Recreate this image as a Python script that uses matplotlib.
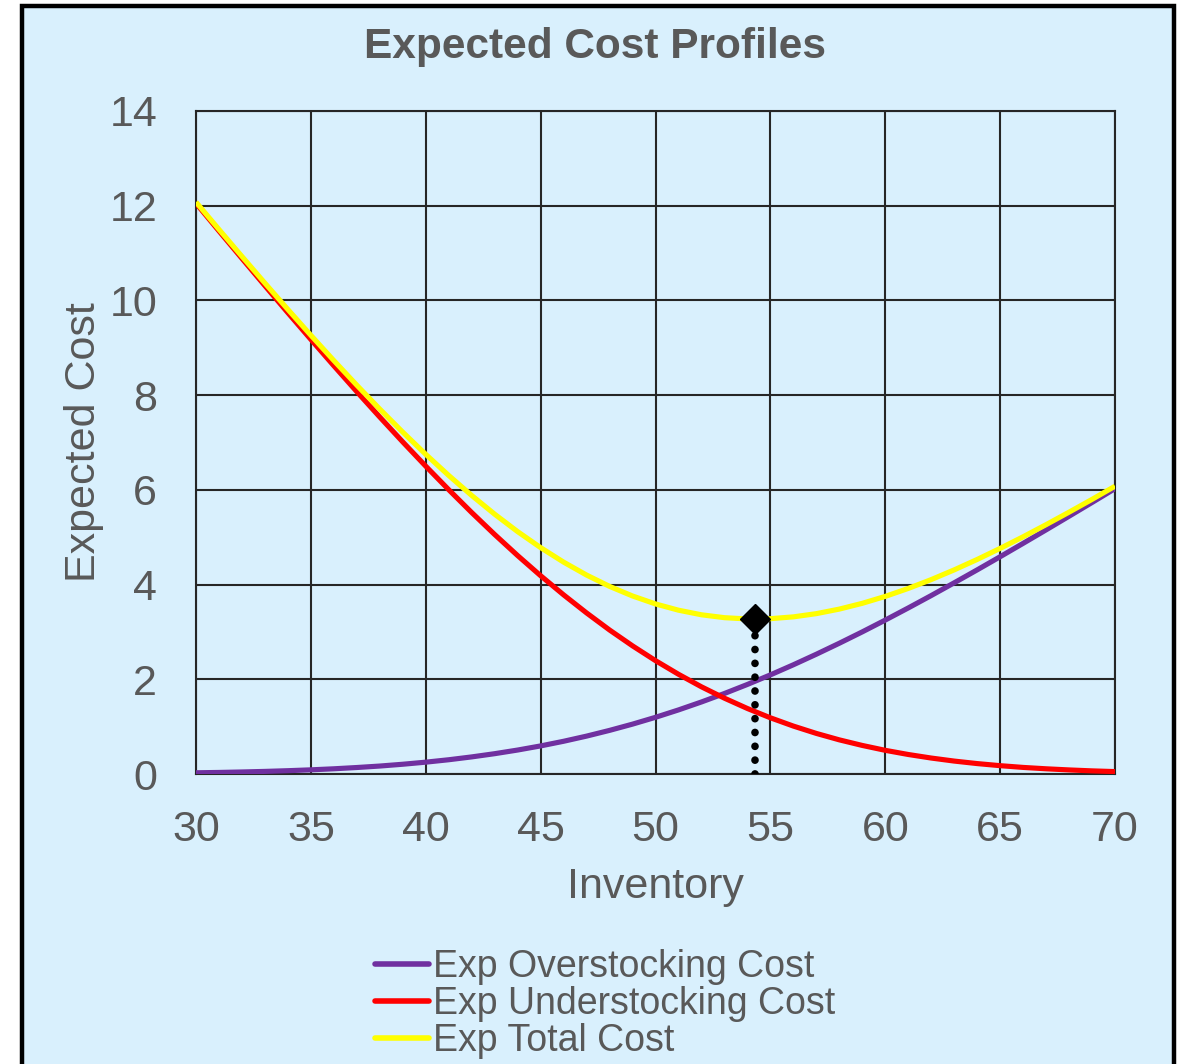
import matplotlib.pyplot as plt
from matplotlib.patches import Rectangle
from matplotlib.lines import Line2D

plt.rcParams['font.family'] = ['Liberation Sans', 'DejaVu Sans']

# inventory levels and expected costs
inventory = list(range(30, 71))
over_cost = [0.026, 0.033, 0.043, 0.055, 0.070, 0.088, 0.110, 0.137, 0.168, 0.206,
             0.250, 0.301, 0.361, 0.429, 0.506, 0.593, 0.691, 0.800, 0.921, 1.053,
             1.197, 1.353, 1.521, 1.700, 1.891, 2.093, 2.306, 2.529, 2.761, 3.001,
             3.250, 3.506, 3.768, 4.037, 4.310, 4.588, 4.870, 5.155, 5.443, 5.733,
             6.026]
under_cost = [12.051, 11.466, 10.886, 10.310, 9.739, 9.176, 8.620, 8.073, 7.537, 7.012,
              6.500, 6.003, 5.521, 5.057, 4.612, 4.187, 3.783, 3.401, 3.041, 2.706,
              2.394, 2.106, 1.841, 1.601, 1.383, 1.187, 1.012, 0.857, 0.721, 0.603,
              0.500, 0.412, 0.337, 0.273, 0.220, 0.176, 0.139, 0.110, 0.086, 0.066,
              0.051]
total_cost = [12.077, 11.499, 10.929, 10.365, 9.809, 9.264, 8.730, 8.210, 7.705, 7.218,
              6.750, 6.304, 5.882, 5.486, 5.118, 4.780, 4.474, 4.201, 3.962, 3.759,
              3.591, 3.459, 3.362, 3.301, 3.274, 3.280, 3.318, 3.386, 3.482, 3.604,
              3.750, 3.918, 4.105, 4.310, 4.530, 4.764, 5.009, 5.265, 5.529, 5.799,
              6.077]
best_q = 54.31
best_cost = 3.27

x_ticks = [30, 35, 40, 45, 50, 55, 60, 65, 70]
y_ticks = [0, 2, 4, 6, 8, 10, 12, 14]

bg = '#D9F0FD'
grey = '#595959'

fig = plt.figure(figsize=(11.85, 10.64), dpi=100)
fig.patch.set_facecolor('white')
fig.patches.append(Rectangle((22 / 1185, -0.05), (1174 - 22) / 1185, 1.05 - 6 / 1064,
                             transform=fig.transFigure, facecolor=bg,
                             edgecolor='black', linewidth=3.2, zorder=-1))

ax = fig.add_axes([196 / 1185, 1 - 774 / 1064, (1115 - 196) / 1185, (774 - 111) / 1064])
ax.set_zorder(1)
ax.set_facecolor(bg)

ax.plot(inventory, over_cost, color='#7030A0', lw=3.7, solid_capstyle='butt', zorder=3)
ax.plot(inventory, under_cost, color='#FF0000', lw=3.7, solid_capstyle='butt', zorder=4)
ax.plot(inventory, total_cost, color='#FFFF00', lw=3.7, solid_capstyle='butt', zorder=5)
ax.plot([best_q, best_q], [0, best_cost], color='black', lw=5.5,
        linestyle=(0, (0.01, 1.8)), dash_capstyle='round', zorder=6)
ax.plot([best_q], [best_cost], marker='D', color='black', ms=15, zorder=7)

ax.set_xlim(30, 70)
ax.set_ylim(0, 14)
ax.set_xticks(x_ticks)
ax.set_yticks(y_ticks)
ax.grid(True, color='#262626', lw=1.5)
ax.set_axisbelow(True)
for s in ax.spines.values():
    s.set_color('#262626')
    s.set_linewidth(1.5)
ax.tick_params(length=0, labelsize=31, labelcolor=grey)
ax.tick_params(axis='y', pad=28)
ax.tick_params(axis='x', pad=26)

ax.set_xlabel('Inventory', fontsize=31, color=grey, labelpad=12)
ax.set_ylabel('Expected Cost', fontsize=31, color=grey, labelpad=4)
fig.text(0.502, 1 - 47 / 1064, 'Expected Cost Profiles', ha='center', va='center',
         fontsize=30.5, fontweight='bold', color=grey)

handles = [Line2D([], [], color='#7030A0', lw=4, solid_capstyle='round'),
           Line2D([], [], color='#FF0000', lw=4, solid_capstyle='round'),
           Line2D([], [], color='#FFFF00', lw=4, solid_capstyle='round')]
labels = ['Exp Overstocking Cost', 'Exp Understocking Cost', 'Exp Total Cost']
fig.legend(handles, labels, loc='upper left', bbox_to_anchor=(356 / 1185, 1 - 930 / 1064),
           frameon=False, fontsize=27, labelcolor=grey, handlelength=1.45,
           handletextpad=0.1, labelspacing=0.03, borderpad=0)

fig.savefig('out.png', dpi=100, facecolor='white')
